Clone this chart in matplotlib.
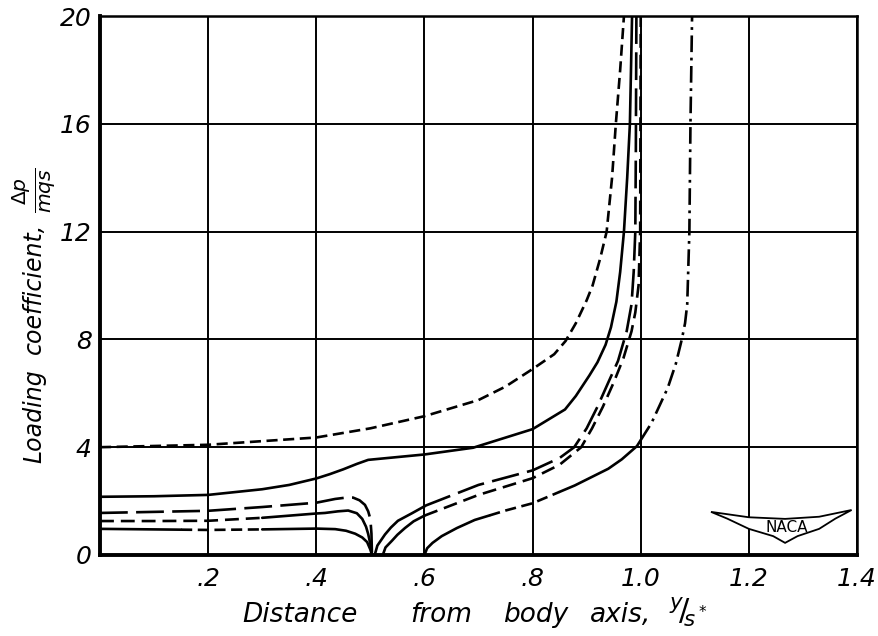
import matplotlib
matplotlib.use("Agg")
import matplotlib.pyplot as plt
import numpy as np

plt.rcParams['font.family'] = ['DejaVu Sans']
plt.rcParams['mathtext.fontset'] = 'dejavusans'
plt.rcParams['lines.scale_dashes'] = False

# ---------------- data ----------------
# curve A: short dashed, upper
a_x = [0, 0.2, 0.4, 0.5, 0.6, 0.7, 0.75, 0.8, 0.84, 0.861, 0.88, 0.9, 0.911, 0.925,
       0.937, 0.942, 0.947, 0.954, 0.962, 0.969]
a_y = [4.0, 4.09, 4.36, 4.7, 5.15, 5.75, 6.25, 6.9, 7.45, 7.94, 8.6, 9.45, 10.0, 11.0,
       12, 13, 14, 16, 18, 20]

# curve B: solid, with kink near 0.5
b_x = [0, 0.1, 0.2, 0.3, 0.35, 0.4, 0.425, 0.45, 0.475, 0.496, 0.6, 0.69, 0.8, 0.86, 0.88,
       0.905, 0.92, 0.935, 0.945, 0.955, 0.962, 0.969, 0.975, 0.98, 0.982, 0.984]
b_y = [2.16, 2.18, 2.23, 2.44, 2.6, 2.84, 3.0, 3.18, 3.38, 3.53, 3.73, 3.98, 4.67, 5.4, 5.9,
       6.66, 7.15, 7.8, 8.45, 9.4, 10.5, 12, 14, 16, 18, 20]

# curve C: long dashed (inner part and outer part)
c_in_x = [0, 0.1, 0.2, 0.3, 0.4, 0.435, 0.455, 0.468, 0.48, 0.49, 0.496, 0.5, 0.502, 0.503]
c_in_y = [1.56, 1.6, 1.64, 1.78, 1.94, 2.08, 2.13, 2.13, 2.03, 1.86, 1.62, 1.34, 0.8, 0]
c_out_x = [0.508, 0.513, 0.527, 0.538, 0.551, 0.577, 0.603, 0.7, 0.8, 0.85, 0.877, 0.9,
           0.92, 0.94, 0.958, 0.974, 0.983, 0.987, 0.99, 0.991, 0.992]
c_out_y = [0, 0.35, 0.76, 1.02, 1.27, 1.55, 1.84, 2.6, 3.14, 3.6, 4.0, 4.7,
           5.5, 6.4, 7.2, 8.3, 9.3, 10.5, 12, 15, 20]

# curve D: medium dashed / solid
d_in_x = [0, 0.1, 0.2, 0.3, 0.4, 0.416, 0.44, 0.459, 0.475, 0.485, 0.492, 0.496, 0.5, 0.503]
d_in_y = [1.26, 1.26, 1.27, 1.38, 1.54, 1.56, 1.62, 1.65, 1.55, 1.34, 1.05, 0.78, 0.4, 0]
d_out_x = [0.523, 0.528, 0.54, 0.55, 0.564, 0.58, 0.6, 0.7, 0.8, 0.85, 0.89, 0.91, 0.93,
           0.95, 0.968, 0.983, 0.99, 0.996, 0.999, 1.0]
d_out_y = [0, 0.28, 0.53, 0.75, 1.0, 1.25, 1.46, 2.23, 2.85, 3.35, 4.0, 4.7, 5.5,
           6.4, 7.3, 8.3, 9.0, 10.0, 12, 20]

# curve E: lowest
e_in_x = [0, 0.1, 0.2, 0.3, 0.4, 0.435, 0.455, 0.472, 0.485, 0.494, 0.5, 0.503]
e_in_y = [0.97, 0.95, 0.93, 0.95, 0.98, 0.96, 0.9, 0.79, 0.65, 0.48, 0.2, 0]
e_out_x = [0.6, 0.605, 0.615, 0.632, 0.66, 0.693, 0.75, 0.8, 0.878, 0.94, 0.965, 0.993,
           1.02, 1.05, 1.065, 1.076, 1.082, 1.086, 1.09, 1.092, 1.095]
e_out_y = [0, 0.25, 0.45, 0.7, 1.0, 1.3, 1.65, 1.92, 2.58, 3.2, 3.55, 4.04,
           4.9, 6.2, 7.1, 8.0, 8.6, 9.3, 12, 16, 20]

x_ticks = [0, 0.2, 0.4, 0.6, 0.8, 1.0, 1.2, 1.4]
x_ticklabels = ['', '.2', '.4', '.6', '.8', '1.0', '1.2', '1.4']
y_ticks = [0, 4, 8, 12, 16, 20]
y_ticklabels = ['0', '4', '8', '12', '16', '20']

x_label_words = ['Distance', 'from', 'body', 'axis,', r'$^{y}\!/\!_{s^*}$']
y_label_words = ['Loading', 'coefficient,', r'$\frac{\Delta p}{mqs}$']

# ---------------- figure ----------------
W, H = 879, 636
fig = plt.figure(figsize=(W / 100, H / 100), dpi=100)
ax = fig.add_axes([100 / W, 81 / H, 757 / W, 539 / H])
ax.set_xlim(0, 1.4)
ax.set_ylim(0, 20)

LW = 1.9
SHORT = (0, (8, 4))
MED = (0, (10, 5))
LONG = (0, (20, 6))
DASHDOT = (0, (12, 4, 2, 4))


def seg_plot(x, y, breaks, styles):
    x = np.asarray(x, float)
    y = np.asarray(y, float)
    for (x0, x1), ls in zip(breaks, styles):
        m = (x >= x0) & (x <= x1)
        xs, ys = x[m], y[m]
        if x0 > x[0]:
            xs = np.r_[x0, xs]
            ys = np.r_[np.interp(x0, x, y), ys]
        if x1 < x[-1]:
            xs = np.r_[xs, x1]
            ys = np.r_[ys, np.interp(x1, x, y)]
        ax.plot(xs, ys, color='k', lw=LW, linestyle=ls,
                solid_capstyle='round', solid_joinstyle='round',
                dash_capstyle='butt', zorder=3)


ax.plot(a_x, a_y, color='k', lw=LW, linestyle=SHORT, zorder=3)
ax.plot(b_x, b_y, color='k', lw=LW, linestyle='-', solid_joinstyle='round', zorder=3)

seg_plot(c_in_x, c_in_y, [(0, 0.503)], [LONG])
seg_plot(c_out_x, c_out_y, [(0.5, 0.6), (0.6, 1.0)], ['-', LONG])

seg_plot(d_in_x, d_in_y, [(0, 0.3), (0.3, 0.503)], [MED, '-'])
seg_plot(d_out_x, d_out_y, [(0.5, 0.6), (0.6, 1.0)], ['-', MED])

seg_plot(e_in_x, e_in_y, [(0, 0.15), (0.15, 0.3), (0.3, 0.503)], ['-', SHORT, '-'])
seg_plot(e_out_x, e_out_y, [(0.6, 0.72), (0.72, 0.85), (0.85, 1.0), (1.0, 1.1)],
         ['-', SHORT, '-', DASHDOT])

# grid / spines
ax.set_xticks(x_ticks)
ax.set_yticks(y_ticks)
ax.grid(True, color='k', lw=1.4)
ax.set_axisbelow(True)
ax.tick_params(axis='x', length=0, pad=9)
ax.tick_params(axis='y', length=0, pad=6)
ax.set_xticklabels(x_ticklabels, fontsize=18, fontstyle='italic')
ax.set_yticklabels(y_ticklabels, fontsize=18, fontstyle='italic')
for side in ['left', 'bottom']:
    ax.spines[side].set_linewidth(2.8)
for side in ['top', 'right']:
    ax.spines[side].set_linewidth(1.8)

# axis titles, word by word, spaced like the lettering of the reference
x_word_centres = [300, 441, 536, 621, 688]
x_word_sizes = [19, 19, 19, 19, 22]
for word, cx, fs in zip(x_label_words, x_word_centres, x_word_sizes):
    fig.text(cx / W, (H - 622) / H, word, fontsize=fs, fontstyle='italic',
             ha='center', va='baseline')

y_word_centres = [416, 288, 190]
y_word_sizes = [17, 17, 21]
for word, cy, fs in zip(y_label_words, y_word_centres, y_word_sizes):
    fig.text(34 / W, (H - cy) / H, word, fontsize=fs, fontstyle='italic',
             rotation=90, ha='center', va='center')

# NACA wing emblem
wing_x = [1.13, 1.2, 1.267, 1.33, 1.39, 1.36, 1.33, 1.29, 1.267, 1.245, 1.2, 1.16]
wing_y = [1.6, 1.4, 1.34, 1.42, 1.67, 1.35, 0.97, 0.7, 0.45, 0.7, 0.97, 1.35]
ax.fill(wing_x, wing_y, facecolor='white', edgecolor='k', lw=1.3, zorder=4)
ax.text(1.27, 1.02, 'NACA', fontsize=11, ha='center', va='center', zorder=5)

fig.savefig('out.png', dpi=100, facecolor='white')
